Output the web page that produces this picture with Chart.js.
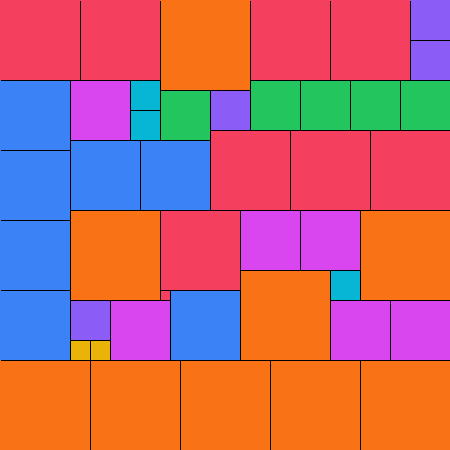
<!DOCTYPE html>
<html>
<head>
<meta charset="utf-8">
<script src="https://cdn.jsdelivr.net/npm/chart.js@4/dist/chart.umd.min.js"></script>
<style>
  html, body { margin: 0; padding: 0; background: #fff; }
  #wrap { width: 450px; height: 450px; }
</style>
</head>
<body>
<div id="wrap"><canvas id="chart" width="450" height="450"></canvas></div>
<script>
// --- DATA: top-left corners (grid units) of each square, grouped by side ---
const gridSize = 45;
const sides = [9, 8, 7, 6, 5, 4, 3, 2, 1];
const sq9 = [[16, 0], [7, 21], [36, 21], [24, 27], [0, 36], [9, 36], [18, 36], [27, 36], [36, 36]];
const sq8 = [[0, 0], [8, 0], [25, 0], [33, 0], [21, 13], [29, 13], [37, 13], [16, 21]];
const sq7 = [[0, 8], [0, 15], [0, 22], [0, 29], [7, 14], [14, 14], [17, 29]];
const sq6 = [[7, 8], [24, 21], [30, 21], [11, 30], [33, 30], [39, 30]];
const sq5 = [[16, 9], [25, 8], [30, 8], [35, 8], [40, 8]];
const sq4 = [[41, 0], [41, 4], [21, 9], [7, 30]];
const sq3 = [[13, 8], [13, 11], [33, 27]];
const sq2 = [[7, 34], [9, 34]];
const sq1 = [[16, 29]];
const squares = [sq9, sq8, sq7, sq6, sq5, sq4, sq3, sq2, sq1];
const colors = ['#f97316', '#f43f5e', '#3b82f6', '#d946ef', '#22c55e', '#8b5cf6', '#06b6d4', '#eab308', '#f43f5e'];

// radius for pointStyle 'rect' so the square spans `side` units on the x scale
function rectRadius(ctx, side) {
    const sx = ctx.chart.scales.x;
    const half = (sx.getPixelForValue(side) - sx.getPixelForValue(0)) / 2;
    return half / Math.SQRT1_2;
}

function centers(side, list) {
    return list.map(p => ({ x: p[0] + side / 2, y: p[1] + side / 2 }));
}

// fills first (below), outlines on top
const fills = sides.map((side, i) => ({
    label: side + 'x' + side,
    data: centers(side, squares[i]),
    pointStyle: 'rect',
    backgroundColor: colors[i],
    borderWidth: 0,
    radius: ctx => rectRadius(ctx, side),
    hoverRadius: ctx => rectRadius(ctx, side),
    clip: false,
    order: 1
}));

const outlines = sides.map((side, i) => ({
    label: side + 'x' + side + ' outline',
    data: centers(side, squares[i]),
    pointStyle: 'rect',
    backgroundColor: 'rgba(0,0,0,0)',
    borderColor: '#000',
    borderWidth: 1,
    radius: ctx => rectRadius(ctx, side),
    hoverRadius: ctx => rectRadius(ctx, side),
    clip: { left: -0.5, top: -0.5, right: 0, bottom: 0 },
    order: 0,
    outline: true
}));

// half-pixel shift so the 1px outlines land crisp on pixel rows
const crispLines = {
    id: 'crispLines',
    beforeDatasetDraw(chart, args) {
        chart.ctx.save();
        if (chart.data.datasets[args.index].outline) chart.ctx.translate(0.5, 0.5);
    },
    afterDatasetDraw(chart) { chart.ctx.restore(); }
};

new Chart(document.getElementById('chart'), {
    type: 'scatter',
    data: { datasets: fills.concat(outlines) },
    plugins: [crispLines],
    options: {
        responsive: false,
        animation: false,
        events: [],
        layout: { padding: 0 },
        plugins: { legend: { display: false }, tooltip: { enabled: false } },
        scales: {
            x: { type: 'linear', min: 0, max: gridSize, display: false },
            y: { type: 'linear', min: 0, max: gridSize, reverse: true, display: false }
        }
    }
});
</script>
</body>
</html>
